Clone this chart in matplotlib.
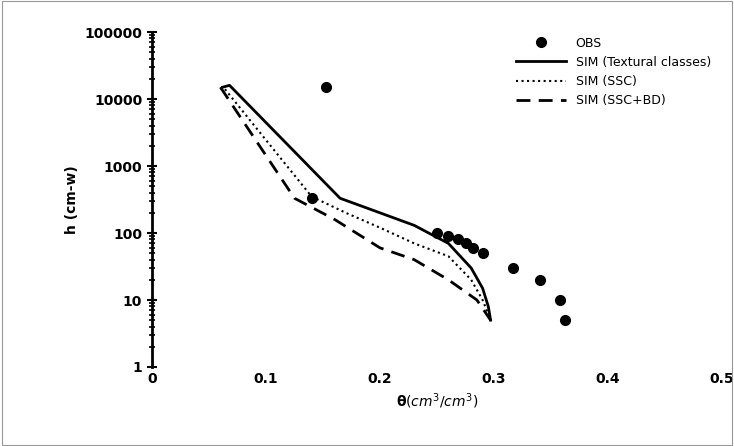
import matplotlib.pyplot as plt
from matplotlib.ticker import LogLocator, FixedLocator

obs_theta = [0.153, 0.14, 0.25, 0.26, 0.268, 0.275, 0.282, 0.29, 0.317, 0.34, 0.358, 0.362]
obs_h = [15000, 330, 100, 90, 80, 70, 60, 50, 30, 20, 10, 5]

tex_theta = [0.062, 0.068, 0.165, 0.2, 0.23, 0.26, 0.28, 0.29, 0.295, 0.297]
tex_h = [15000, 16000, 330, 200, 130, 70, 30, 15, 8, 5]

ssc_theta = [0.064, 0.14, 0.17, 0.2, 0.23, 0.26, 0.28, 0.29, 0.297]
ssc_h = [14000, 350, 200, 120, 70, 45, 20, 10, 5]

bd_theta = [0.06, 0.125, 0.16, 0.2, 0.23, 0.26, 0.285, 0.297]
bd_h = [15000, 330, 160, 60, 40, 20, 10, 5]

fig = plt.figure(figsize=(7.34, 4.46), dpi=100)
fig.patches.append(plt.Rectangle((0.003, 0.003), 0.994, 0.994, transform=fig.transFigure,
                                 fill=False, edgecolor="#999999", linewidth=0.8))
ax = fig.add_axes([152/734, 1 - 367/446, 570/734, 335/446])

ax.plot(obs_theta, obs_h, "o", color="black", markersize=7, linestyle="none", label="OBS")
ax.plot(tex_theta, tex_h, color="black", linewidth=2, label="SIM (Textural classes)")
ax.plot(ssc_theta, ssc_h, color="black", linewidth=1.5, linestyle=":", label="SIM (SSC)")
ax.plot(bd_theta, bd_h, color="black", linewidth=2, linestyle=(0, (5, 3)), label="SIM (SSC+BD)")

ax.set_yscale("log")
ax.set_ylim(1, 100000)
ax.set_xlim(0, 0.5)
ax.set_xticks([0, 0.1, 0.2, 0.3, 0.4, 0.5])
ax.set_xticklabels(["0", "0.1", "0.2", "0.3", "0.4", "0.5"])
ax.yaxis.set_major_locator(FixedLocator([1, 10, 100, 1000, 10000, 100000]))
ax.set_yticklabels(["1", "10", "100", "1000", "10000", "100000"])
ax.yaxis.set_minor_locator(LogLocator(subs=range(2, 10)))
ax.tick_params(axis="y", which="major", direction="inout", width=1.5, length=7)
ax.tick_params(axis="y", which="minor", direction="inout", width=1.2, length=5)
ax.tick_params(axis="x", length=0)
for lbl in ax.get_xticklabels() + ax.get_yticklabels():
    lbl.set_fontweight("bold")
ax.spines["top"].set_visible(False)
ax.spines["right"].set_visible(False)
ax.spines["bottom"].set_visible(False)
ax.spines["left"].set_linewidth(2)

ax.set_ylabel("h (cm-w)", fontweight="bold")
ax.set_xlabel(r"$\mathbf{\theta}(cm^3/cm^3)$")
ax.legend(loc="upper right", frameon=False, handlelength=4, fontsize=9,
          bbox_to_anchor=(1.0, 1.02))

plt.savefig("out.png", dpi=100)
